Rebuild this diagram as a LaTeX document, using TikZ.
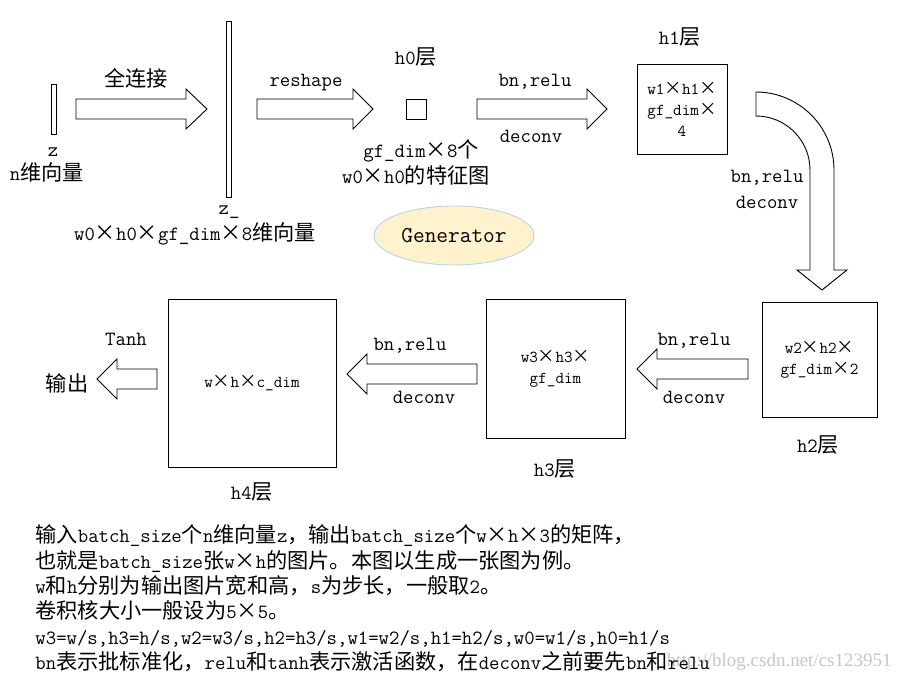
\documentclass[tikz,border=0pt]{standalone}
\usepackage{fontspec}
\newfontfamily\cjk{Noto Sans CJK SC}[Scale=1.05]
\newfontfamily\wmfont{Liberation Serif}
\usetikzlibrary{shapes.geometric}
\definecolor{genfill}{HTML}{FFF2CC}
\definecolor{genline}{HTML}{B4D6E7}
\newcommand\zh[1]{{\cjk #1}}
\newcommand\cross{\makebox[1.05em]{\cjk ×}}

\begin{document}
\begin{tikzpicture}[x=1pt,y=-1pt,line width=0.9pt,
    lbl/.style={inner sep=0pt,font=\ttfamily\fontsize{20.2}{25}\selectfont},
    fmap/.style={draw,inner sep=0pt,align=center,font=\ttfamily\fontsize{16.7}{21}\selectfont},
    txtline/.style={anchor=west,inner sep=0pt,text height=17pt,text depth=4pt,font=\ttfamily\fontsize{20.2}{25}\selectfont}]
\path[use as bounding box,fill=white] (0,0) rectangle (905,686);

% input vector z
\node[draw,minimum width=5,minimum height=50,inner sep=0pt] (z) at (53.5,109) {};
\node[lbl] (zname) at (53,152) {z};
\node[lbl] (zdesc) at (47,172) {n\zh{维向量}};
\draw (76,99) --++ (110,0) --++ (0,-10) --++ (21,20) --++ (-21,20) --++ (0,-10) --++ (-110,0) -- cycle;
\node[lbl] (fc) at (136,78) {\zh{全连接}};

% long vector z_
\node[draw,minimum width=4.5,minimum height=176,inner sep=0pt] (zz) at (229,109) {};
\node[lbl] (zzname) at (229,212) {z\_};
\node[lbl] (zzdesc) at (195,234) {w0\cross h0\cross gf\_dim\cross 8\zh{维向量}};
\draw (257,99) --++ (96,0) --++ (0,-10) --++ (20,20) --++ (-20,20) --++ (0,-10) --++ (-96,0) -- cycle;
\node[lbl] (rs) at (306,83) {reshape};

% h0
\node[draw,minimum size=20,inner sep=0pt] (h0) at (416,109) {};
\node[lbl] (h0name) at (416,57) {h0\zh{层}};
\node[lbl] (h0a) at (421,151) {gf\_dim\cross 8\zh{个}};
\node[lbl] (h0b) at (416,175) {w0\cross h0\zh{的特征图}};
\draw (477,99) --++ (110,0) --++ (0,-10) --++ (20,20) --++ (-20,20) --++ (0,-10) --++ (-110,0) -- cycle;
\node[lbl] (op0a) at (535,82) {bn,relu};
\node[lbl] (op0b) at (531,136) {deconv};

\node[draw=genline,fill=genfill,ellipse,minimum width=160,minimum height=59,inner sep=0pt,font=\ttfamily\fontsize{22.7}{28}\selectfont] (gen) at (454,235.5) {Generator};

% h1
\node[fmap,minimum size=90] (h1) at (682,109) {w1\cross h1\cross\\gf\_dim\cross\\4};
\node[lbl] (h1name) at (680,37) {h1\zh{层}};
\draw (756,92) arc[start angle=-90,end angle=0,radius=78] -- (834,270) -- (847,270) -- (822,290) -- (797,270) -- (810,270) -- (810,170) arc[start angle=0,end angle=-90,radius=54] -- cycle;
\node[lbl] (op1a) at (767,178) {bn,relu};
\node[lbl] (op1b) at (767,202) {deconv};

% h2
\node[fmap,minimum size=115] (h2) at (819.5,359.5) {w2\cross h2\cross\\gf\_dim\cross 2};
\node[lbl] (h2name) at (818,445) {h2\zh{层}};
\draw (748,359) --++ (-91,0) --++ (0,-10) --++ (-20,20) --++ (20,20) --++ (0,-10) --++ (91,0) -- cycle;
\node[lbl] (op2a) at (694,341) {bn,relu};
\node[lbl] (op2b) at (694,397) {deconv};

% h3
\node[fmap,minimum size=139] (h3) at (555.5,368.5) {w3\cross h3\cross\\gf\_dim};
\node[lbl] (h3name) at (555,469) {h3\zh{层}};
\draw (477,364) --++ (-110,0) --++ (0,-10) --++ (-20,20) --++ (20,20) --++ (0,-10) --++ (110,0) -- cycle;
\node[lbl] (op3a) at (410,346) {bn,relu};
\node[lbl] (op3b) at (424,397) {deconv};

% h4 and output
\node[fmap,minimum size=168] (h4) at (252,383) {w\cross h\cross c\_dim};
\node[lbl] (h4name) at (252,492) {h4\zh{层}};
\draw (157,369) --++ (-40,0) --++ (0,-10) --++ (-20,20) --++ (20,20) --++ (0,-10) --++ (40,0) -- cycle;
\node[lbl] (tanh) at (126,339) {Tanh};
\node[lbl] (out) at (67,383) {\zh{输出}};

% notes
\node[anchor=east,inner sep=0pt,text=black!22,font=\wmfont\fontsize{19}{22}\selectfont] (wm) at (892,662) {http://blog.csdn.net/cs123951};
\node[txtline] (t1) at (35,536) {\zh{输入}batch\_size\zh{个}n\zh{维向量}z\zh{，输出}batch\_size\zh{个}w\cross h\cross 3\zh{的矩阵，}};
\node[txtline] (t2) at (35,562) {\zh{也就是}batch\_size\zh{张}w\cross h\zh{的图片。本图以生成一张图为例。}};
\node[txtline] (t3) at (35,587) {w\zh{和}h\zh{分别为输出图片宽和高，}s\zh{为步长，一般取}2\zh{。}};
\node[txtline] (t4) at (35,612) {\zh{卷积核大小一般设为}5\cross 5\zh{。}};
\node[txtline] (t5) at (35,638) {w3=w/s,h3=h/s,w2=w3/s,h2=h3/s,w1=w2/s,h1=h2/s,w0=w1/s,h0=h1/s};
\node[txtline] (t6) at (35,663) {bn\zh{表示批标准化，}relu\zh{和}tanh\zh{表示激活函数，在}deconv\zh{之前要先}bn\zh{和}relu};
\end{tikzpicture}
\end{document}
